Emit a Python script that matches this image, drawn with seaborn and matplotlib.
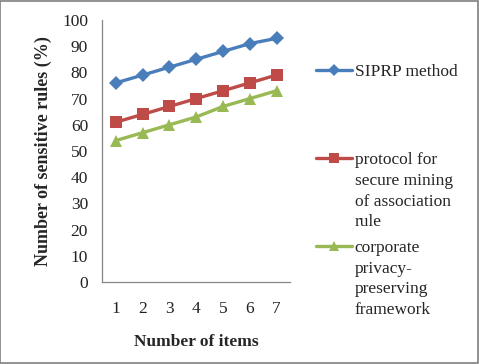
import matplotlib
matplotlib.use("Agg")
import matplotlib.pyplot as plt
import seaborn as sns
import pandas as pd
from matplotlib.patches import Rectangle
from matplotlib.lines import Line2D

items = [1, 2, 3, 4, 5, 6, 7]
siprp = [76, 79, 82, 85, 88, 91, 93]
protocol = [61, 64, 67, 70, 73, 76, 79]
corporate = [54, 57, 60, 63, 67, 70, 73]
labels = ["SIPRP method\n\n\n",
          "protocol for\nsecure mining\nof association\nrule",
          "corporate\nprivacy-\npreserving\nframework"]
y_ticks = list(range(0, 101, 10))

sns.set_style("white")
plt.rcParams['font.family'] = ['Liberation Serif', 'DejaVu Serif']

fig = plt.figure(figsize=(4.79, 3.64), dpi=100)
ax = fig.add_axes([102/479, 1-282/364, (290-102)/479, (282-20)/364])

colors = ["#4a7ebb", "#be4b48", "#98b954"]
markers = ["D", "s", "^"]
msizes = [7.5, 9, 8.5]
for vals, c, m, ms in zip([siprp, protocol, corporate], colors, markers, msizes):
    df = pd.DataFrame({"x": items, "y": vals})
    sns.lineplot(data=df, x="x", y="y", ax=ax, color=c, marker=m, markersize=ms,
                 linewidth=2.4, markeredgewidth=0, legend=False)

ax.set_xlim(0.48, 7.5)
ax.set_ylim(0, 100)
ax.set_xticks(items)
ax.set_yticks(y_ticks)
ax.tick_params(axis='x', length=0, pad=14, labelsize=12.5, labelcolor="#222222")
ax.tick_params(axis='y', length=0, pad=10, labelsize=12.5, labelcolor="#222222")
for s in ["top", "right"]:
    ax.spines[s].set_visible(False)
for s in ["left", "bottom"]:
    ax.spines[s].set_color("#868686")
    ax.spines[s].set_linewidth(0.9)
ax.set_xlabel("Number of items", fontsize=12.5, fontweight="bold", labelpad=12)
ax.set_ylabel("Number of sensitive rules (%)", fontsize=13, fontweight="bold", labelpad=7)

leg_handles = [Line2D([], [], color=c, marker=m, markersize=ms*0.8, linewidth=2.4, markeredgewidth=0)
               for c, m, ms in zip(colors, markers, msizes)]
leg = fig.legend(leg_handles, labels, loc="upper left", bbox_to_anchor=(316/479, 1-64/364),
                 frameon=False, fontsize=12.5, handlelength=2.1, handletextpad=0.12,
                 labelspacing=0.55, borderpad=0, borderaxespad=0)
for t in leg.get_texts():
    t.set_linespacing(1.4)
for col in leg._legend_handle_box.get_children():
    for row in col.get_children():
        row.align = "top"

fig.patches.append(Rectangle((0.001, 0.002), 0.997, 0.995, transform=fig.transFigure,
                             fill=False, edgecolor="#7f7f7f", linewidth=1.2))
fig.savefig("out.png", dpi=100)
